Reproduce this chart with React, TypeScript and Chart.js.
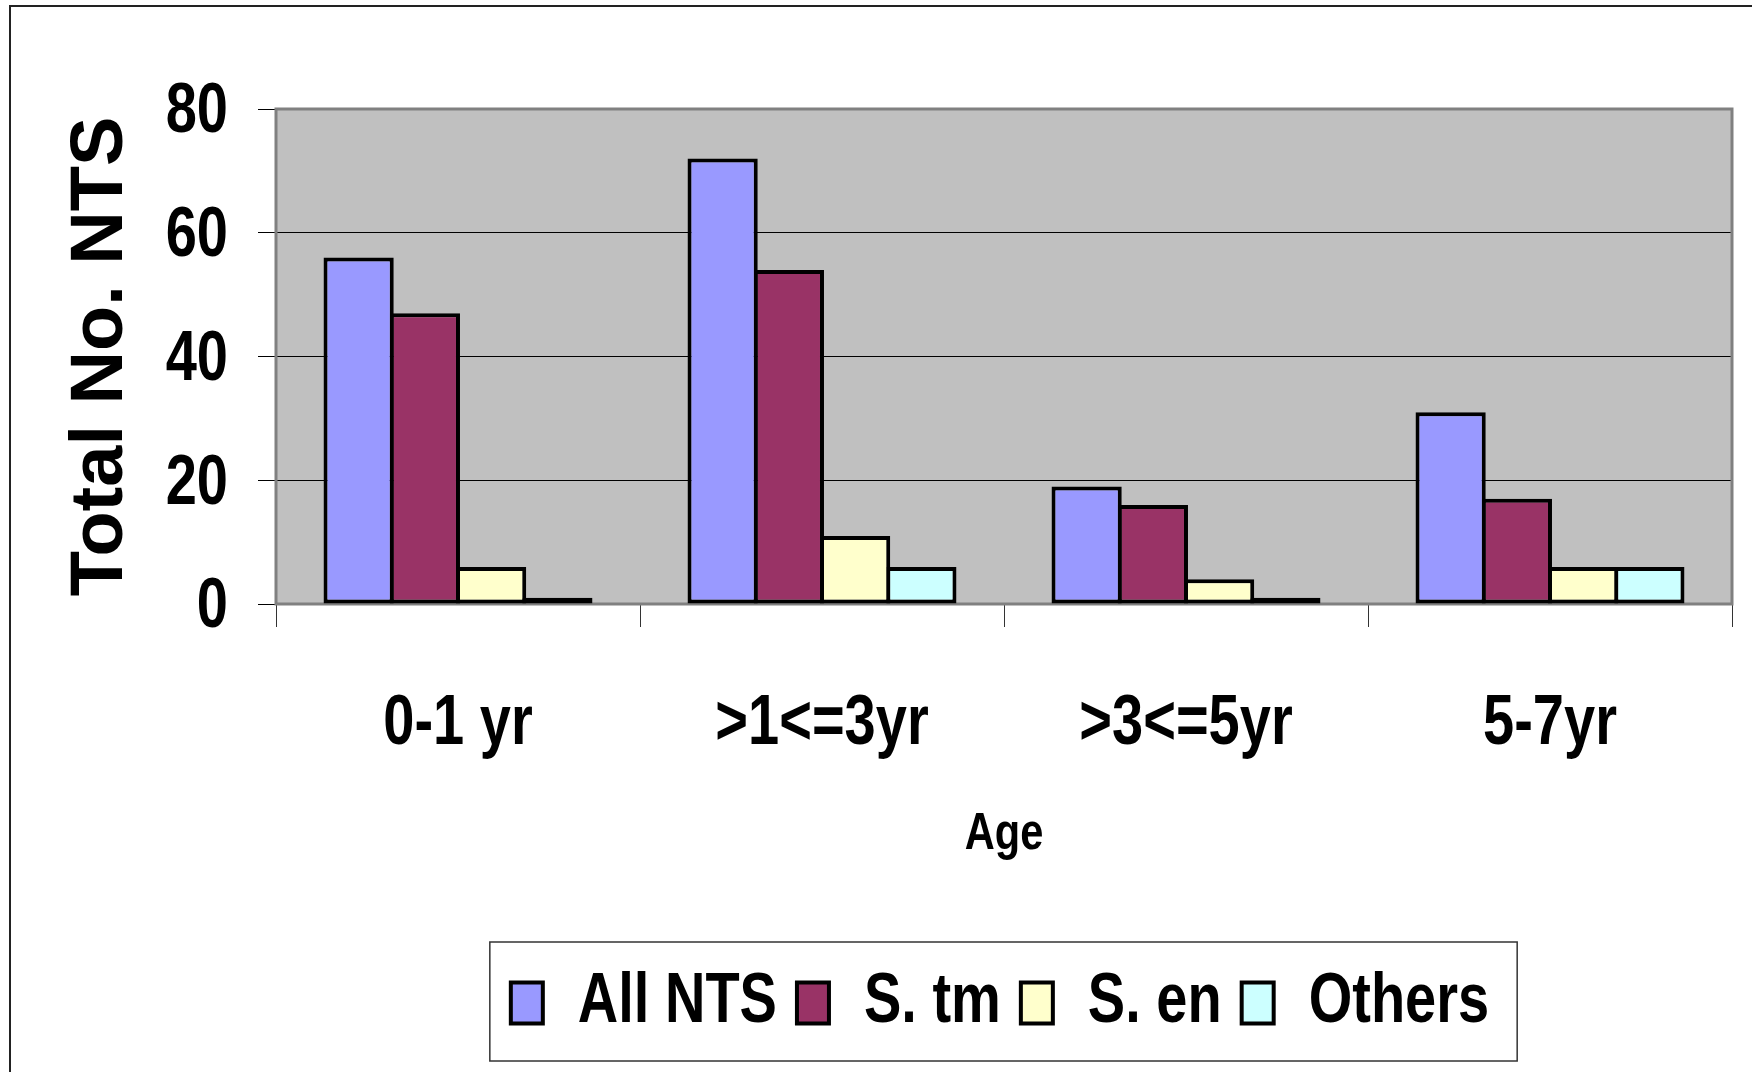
import React, { useEffect, useRef } from 'react';
import { Chart, registerables } from 'chart.js';

Chart.register(...registerables);

const categories = ['0-1 yr', '>1<=3yr', '>3<=5yr', '5-7yr'];
const allNts = [56, 72, 19, 31];
const sTm = [47, 54, 16, 17];
const sEn = [6, 11, 4, 6];
const others = [1, 6, 1, 6];
const seriesNames = ['All NTS', 'S. tm', 'S. en', 'Others'];
const seriesColors = ['#9999FF', '#993366', '#FFFFCC', '#CCFFFF'];
const yMin = 0;
const yMax = 80;
const yStep = 20;

// "NarrowX" is a marker family: text in this font is drawn horizontally condensed
const NARROW = "'Liberation Sans', NarrowX, Arial, sans-serif";
const WIDE = "'Liberation Sans', Arial, sans-serif";
const SX = 0.8;

function condenseContext(ctx: any) {
  if (ctx.__condensed) return;
  ctx.__condensed = true;
  const of = ctx.fillText.bind(ctx);
  const om = ctx.measureText.bind(ctx);
  ctx.fillText = function (text: string, x: number, y: number, maxWidth?: number) {
    if (String(ctx.font).includes('NarrowX')) {
      ctx.save();
      ctx.translate(x, y);
      ctx.scale(SX, 1);
      if (maxWidth !== undefined && maxWidth !== null) of(text, 0, 0, maxWidth / SX);
      else of(text, 0, 0);
      ctx.restore();
    } else if (maxWidth !== undefined && maxWidth !== null) {
      of(text, x, y, maxWidth);
    } else {
      of(text, x, y);
    }
  };
  ctx.measureText = function (text: string) {
    const m = om(text);
    if (String(ctx.font).includes('NarrowX')) {
      return {
        width: m.width * SX,
        actualBoundingBoxAscent: m.actualBoundingBoxAscent,
        actualBoundingBoxDescent: m.actualBoundingBoxDescent,
        actualBoundingBoxLeft: m.actualBoundingBoxLeft * SX,
        actualBoundingBoxRight: m.actualBoundingBoxRight * SX,
        fontBoundingBoxAscent: m.fontBoundingBoxAscent,
        fontBoundingBoxDescent: m.fontBoundingBoxDescent,
      };
    }
    return m;
  };
}

const framePlugin = {
  id: 'frame',
  beforeDraw(chart: any) {
    const { ctx, chartArea, width, height } = chart;
    ctx.save();
    ctx.fillStyle = '#ffffff';
    ctx.fillRect(0, 0, width, height);
    ctx.strokeStyle = '#222222';
    ctx.lineWidth = 2;
    ctx.strokeRect(10, 6, width + 20, height + 20);
    ctx.fillStyle = '#C0C0C0';
    ctx.fillRect(chartArea.left, chartArea.top, chartArea.right - chartArea.left, chartArea.bottom - chartArea.top);
    ctx.restore();
  },
  beforeDatasetsDraw(chart: any) {
    const { ctx, chartArea } = chart;
    ctx.save();
    ctx.strokeStyle = '#808080';
    ctx.lineWidth = 3;
    ctx.strokeRect(chartArea.left, chartArea.top, chartArea.right - chartArea.left, chartArea.bottom - chartArea.top);
    ctx.restore();
  },
  afterLayout(chart: any) {
    const lg = chart.legend;
    if (!lg) return;
    const ca = chart.chartArea;
    const cx = (ca.left + ca.right) / 2 - 4;
    const cur = (lg.left + lg.right) / 2;
    const d = cx - cur;
    lg.left += d;
    lg.right += d;
  },
  afterDraw(chart: any) {
    const lg = chart.legend;
    if (!lg || !lg.legendHitBoxes || !lg.legendHitBoxes.length) return;
    const hb = lg.legendHitBoxes;
    let l = Infinity, r = -Infinity, t = Infinity, b = -Infinity;
    hb.forEach((h: any) => {
      l = Math.min(l, h.left);
      r = Math.max(r, h.left + h.width);
      t = Math.min(t, h.top);
      b = Math.max(b, h.top + h.height);
    });
    const { ctx } = chart;
    ctx.save();
    ctx.strokeStyle = '#333333';
    ctx.lineWidth = 1.5;
    ctx.strokeRect(l - 21, t - 26, r - l + 49, b - t + 49);
    ctx.restore();
  },
};

export default function App() {
  const ref = useRef<HTMLCanvasElement | null>(null);

  useEffect(() => {
    document.body.style.margin = '0';
    const canvas = ref.current;
    if (!canvas) return;
    condenseContext(canvas.getContext('2d'));
    const data = [allNts, sTm, sEn, others];
    const chart = new Chart(canvas, {
      type: 'bar',
      data: {
        labels: categories,
        datasets: seriesNames.map((name, i) => ({
          label: name,
          data: data[i],
          backgroundColor: seriesColors[i],
          borderColor: '#000000',
          borderWidth: 4,
          borderSkipped: false,
          categoryPercentage: 0.728,
          barPercentage: 1.06,
        })),
      },
      options: {
        responsive: false,
        animation: false,
        devicePixelRatio: 1,
        layout: { padding: { top: 109, left: 0, right: 20, bottom: 24 } },
        plugins: {
          tooltip: { enabled: false },
          title: { display: false },
          legend: {
            position: 'bottom',
            labels: {
              color: '#000',
              font: { family: NARROW, size: 70, weight: 'bold', lineHeight: 1 },
              boxWidth: 32,
              boxHeight: 41,
              padding: 20,
            },
          },
        },
        scales: {
          x: {
            grid: {
              offset: true,
              drawOnChartArea: false,
              drawTicks: true,
              tickLength: 23,
              tickColor: '#333',
              tickWidth: 1,
            },
            border: { display: false },
            ticks: {
              color: '#000',
              padding: 63,
              maxRotation: 0,
              autoSkip: false,
              font: { family: NARROW, size: 70, weight: 'bold', lineHeight: 1 },
            },
            title: {
              display: true,
              text: 'Age',
              color: '#000',
              font: { family: NARROW, size: 52, weight: 'bold', lineHeight: 1 },
              padding: { top: 0, bottom: 87 },
            },
            afterFit(scale: any) {
              scale.height = 344;
            },
          },
          y: {
            min: yMin,
            max: yMax,
            ticks: {
              stepSize: yStep,
              color: '#000',
              padding: 30,
              labelOffset: 4,
              font: { family: NARROW, size: 70, weight: 'bold', lineHeight: 1 },
            },
            grid: {
              color: '#000',
              lineWidth: 1,
              drawTicks: true,
              tickLength: 18,
              tickColor: '#000',
            },
            border: { display: false },
            title: {
              display: true,
              text: 'Total No. NTS',
              color: '#000',
              font: { family: WIDE, size: 74, weight: 'bold', lineHeight: 1 },
              padding: { top: 65, bottom: 0 },
            },
            afterFit(scale: any) {
              scale.width = 276;
            },
          },
        },
      },
      plugins: [framePlugin],
    } as any);
    return () => chart.destroy();
  }, []);

  return <canvas ref={ref} width={1752} height={1072} style={{ display: 'block' }} />;
}
